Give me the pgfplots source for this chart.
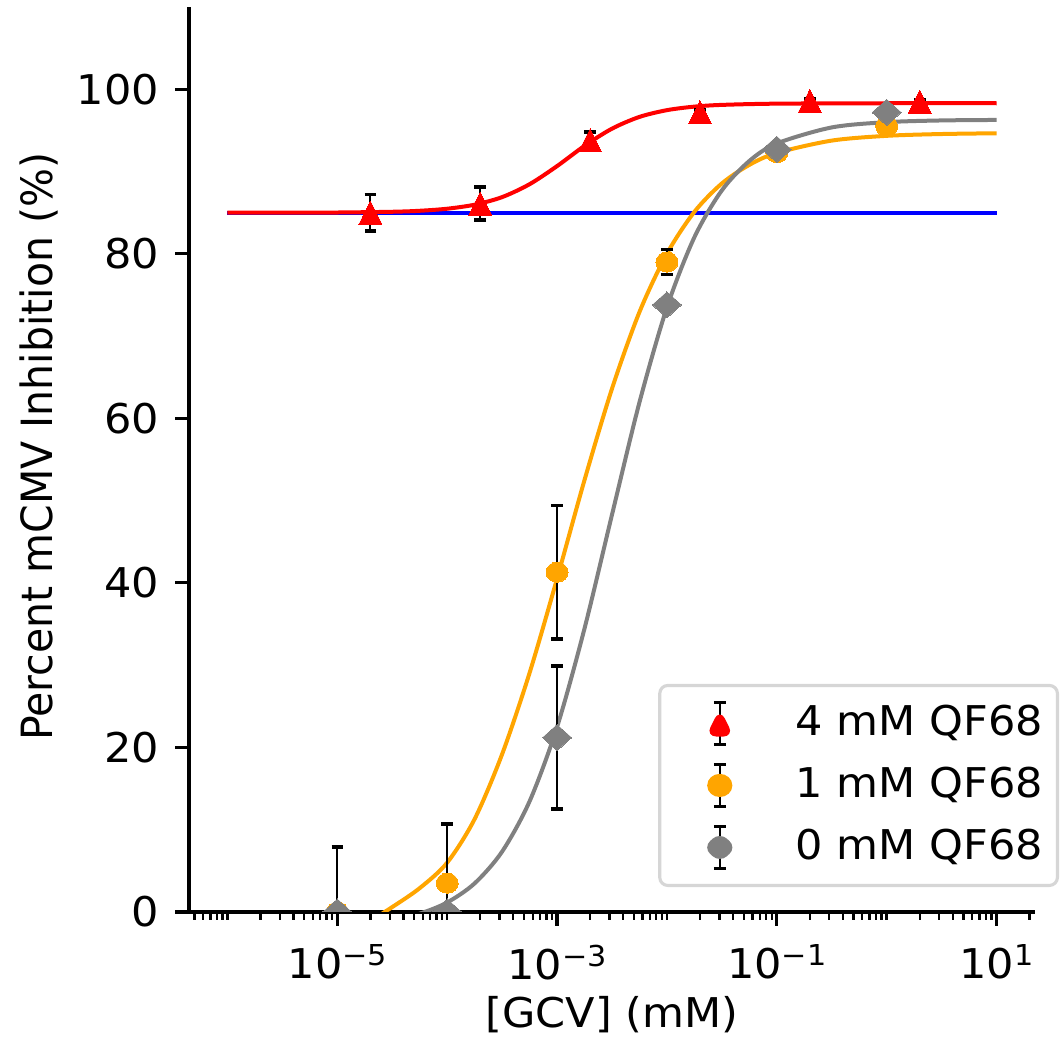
\documentclass[border=0pt]{standalone}
\usepackage{fontspec}
\setmainfont{DejaVu Sans}
\usepackage{graphicx}
\usepackage{pgfplots}
\pgfplotsset{compat=1.18}
\definecolor{mplorange}{RGB}{255,165,0}
\definecolor{mplgray}{RGB}{128,128,128}
\definecolor{mplred}{RGB}{255,0,0}
\definecolor{mplblue}{RGB}{0,0,255}
\newcommand{\fs}{\fontsize{10.25}{12.3}\selectfont}
\newcommand{\sx}[1]{\scalebox{1.05}[1]{#1}}
\newcommand{\tpow}[1]{\sx{10\raisebox{3.3pt}{\fontsize{7.2}{8.6}\selectfont #1}}}
\begin{document}
\begin{tikzpicture}
\path[use as bounding box] (-47.25pt,-34pt) rectangle (218pt,228pt);
\begin{axis}[
  at={(0pt,0pt)}, anchor=south west,
  scale only axis, width=211.5pt, height=226.25pt,
  xmode=log, log basis x=10,
  xmin=4.467e-7, xmax=22.39, ymin=0, ymax=110,
  axis x line*=bottom, axis y line*=left,
  axis line style={line width=0.78pt, black},
  tick align=outside,
  major tick length=3.4pt, minor tick length=1.95pt,
  every tick/.style={black, line width=0.78pt},
  every minor tick/.style={black, line width=0.585pt},
  xtick={1e-5,1e-3,1e-1,1e1},
  xticklabels={\tpow{−5},\tpow{−3},\tpow{−1},\tpow{1}},
  minor xtick={5e-7,6e-7,7e-7,8e-7,9e-7,1e-6,2e-6,3e-6,4e-6,5e-6,6e-6,7e-6,8e-6,9e-6,2e-5,3e-5,4e-5,5e-5,6e-5,7e-5,8e-5,9e-5,1e-4,2e-4,3e-4,4e-4,5e-4,6e-4,7e-4,8e-4,9e-4,2e-3,3e-3,4e-3,5e-3,6e-3,7e-3,8e-3,9e-3,1e-2,2e-2,3e-2,4e-2,5e-2,6e-2,7e-2,8e-2,9e-2,2e-1,3e-1,4e-1,5e-1,6e-1,7e-1,8e-1,9e-1,1,2,3,4,5,6,7,8,9,20},
  ytick={0,20,40,60,80,100},
  yticklabels={\sx{0},\sx{20},\sx{40},\sx{60},\sx{80},\sx{100}},
  xticklabel style={font=\fs, anchor=north, inner sep=0pt, yshift=-4.6pt},
  yticklabel style={font=\fs, anchor=east, inner sep=0pt, xshift=-3.9pt},
  xlabel={\sx{[GCV] (mM)}},
  ylabel={\scalebox{1}[1.05]{Percent mCMV Inhibition (\%)}},
  every axis x label/.style={at={(axis description cs:0.5,-0.1138)}, anchor=center, font=\fs, inner sep=0pt},
  every axis y label/.style={at={(axis description cs:-0.1773,0.514)}, rotate=90, anchor=center, font=\fs, inner sep=0pt},
  clip mode=individual, clip marker paths=true,
  legend cell align=left,
  legend style={at={(1.0284,0.0276)}, anchor=south east,
    draw=black!16, line width=0.78pt, rounded corners=2pt, fill=white,
    inner xsep=0pt, inner ysep=1.75pt, row sep=0pt, column sep=0pt,
    nodes={inner sep=0pt}, font=\fs},
]
% fitted curves
\addplot[forget plot, mplblue, line width=1pt] coordinates {(1e-6,85) (10,85)};
\addplot[forget plot, mplorange, line width=1pt, smooth] coordinates {
(1e-6,-4.74) (1e-5,-3.25) (1.778e-5,-1.5) (3.162e-5,0.6) (5.623e-5,2.9) (1e-4,6.0) (1.778e-4,11.3) (3.162e-4,19.18) (5.623e-4,29.06) (1e-3,40.52) (1.778e-3,52.50) (3.162e-3,63.60) (5.623e-3,72.92) (1e-2,80.01) (1.778e-2,85.10) (3.162e-2,88.55) (5.623e-2,90.81) (1e-1,92.26) (3.162e-1,93.76) (1,94.34) (3.162,94.56) (10,94.65)};
\addplot[forget plot, mplgray, line width=1pt, smooth] coordinates {
(1e-6,-1.97) (1e-5,-1.67) (3.162e-5,-0.98) (5.623e-5,-0.20) (1e-4,1.16) (1.778e-4,3.48) (3.162e-4,7.34) (5.623e-4,13.45) (1e-3,22.48) (1.778e-3,34.45) (3.162e-3,48.28) (5.623e-3,61.94) (1e-2,73.48) (1.778e-2,82.01) (3.162e-2,87.71) (5.623e-2,91.28) (1e-1,93.41) (3.162e-1,95.36) (1,96.0) (3.162,96.21) (10,96.27)};
\addplot[forget plot, mplred, line width=1pt, smooth] coordinates {
(1e-6,85.0) (3.162e-6,85.0) (1e-5,85.02) (3.162e-5,85.11) (5.623e-5,85.23) (1e-4,85.48) (1.778e-4,85.97) (3.162e-4,86.89) (5.623e-4,88.46) (1e-3,90.66) (1.778e-3,93.12) (3.162e-3,95.21) (5.623e-3,96.64) (1e-2,97.46) (1.778e-2,97.89) (3.162e-2,98.10) (1e-1,98.25) (1,98.3) (10,98.3)};
% data with error bars
\addplot[forget plot, only marks, mark=triangle*, mark size=3.3pt,
  mark options={fill=mplred, draw=mplred, line width=0pt, yshift=-0.95pt, yscale=1.16},
  error bars/.cd, y dir=both, y explicit,
  error bar style={black, line width=0.45pt},
  error mark options={rotate=90, black, mark size=1.45pt, line width=0.9pt}]
  coordinates {(2e-5,85.0) +- (0,2.2) (2e-4,86.1) +- (0,2.0) (2e-3,93.8) +- (0,1.0) (2e-2,97.2) +- (0,0.3) (2e-1,98.6) +- (0,0.3) (2,98.5) +- (0,0.2)};
\addplot[forget plot, only marks, mark=*, mark size=2.5pt,
  mark options={xscale=1.1, fill=mplorange, draw=mplorange, line width=0pt},
  error bars/.cd, y dir=both, y explicit,
  error bar style={black, line width=0.45pt},
  error mark options={rotate=90, black, mark size=1.45pt, line width=0.9pt}]
  coordinates {(1e-5,0) +- (0,7.9) (1e-4,3.5) +- (0,7.2) (1e-3,41.3) +- (0,8.1) (1e-2,79.0) +- (0,1.5) (1e-1,92.3) +- (0,0.5) (1,95.5) +- (0,0.5)};
\addplot[forget plot, only marks, mark=square*, mark size=2.3pt,
  mark options={xscale=1.115, rotate=45, fill=mplgray, draw=mplgray, line width=0pt},
  error bars/.cd, y dir=both, y explicit,
  error bar style={black, line width=0.45pt},
  error mark options={rotate=90, black, mark size=1.45pt, line width=0.9pt}]
  coordinates {(1e-5,0) +- (0,0.5) (1e-4,0) +- (0,0.5) (1e-3,21.2) +- (0,8.7) (1e-2,73.8) +- (0,0.5) (1e-1,92.7) +- (0,0.5) (1,97.2) +- (0,0.5)};
% legend
\addlegendimage{legend image code/.code={
  \path[draw=none,fill=none] (0pt,-7.75pt) rectangle (34pt,7.75pt);
  \draw[black,line width=0.45pt] (15pt,-5.25pt) -- (15pt,5.25pt);
  \draw[black,line width=0.9pt] (13.55pt,-5.25pt) -- (16.45pt,-5.25pt) (13.55pt,5.25pt) -- (16.45pt,5.25pt);
  \fill[mplred] (12.125pt,-2.875pt) -- (17.875pt,-2.875pt) -- (15pt,2.875pt) -- cycle;}}
\addlegendentry{\sx{4 mM QF68}\kern3.6pt}
\addlegendimage{legend image code/.code={
  \path[draw=none,fill=none] (0pt,-7.75pt) rectangle (34pt,7.75pt);
  \draw[black,line width=0.45pt] (15pt,-5.25pt) -- (15pt,5.25pt);
  \draw[black,line width=0.9pt] (13.55pt,-5.25pt) -- (16.45pt,-5.25pt) (13.55pt,5.25pt) -- (16.45pt,5.25pt);
  \fill[mplorange] (15pt,0pt) ellipse [x radius=2.75pt, y radius=2.5pt];}}
\addlegendentry{\sx{1 mM QF68}\kern3.6pt}
\addlegendimage{legend image code/.code={
  \path[draw=none,fill=none] (0pt,-7.75pt) rectangle (34pt,7.75pt);
  \draw[black,line width=0.45pt] (15pt,-5.25pt) -- (15pt,5.25pt);
  \draw[black,line width=0.9pt] (13.55pt,-5.25pt) -- (16.45pt,-5.25pt) (13.55pt,5.25pt) -- (16.45pt,5.25pt);
  \fill[mplgray] (15pt,3.25pt) -- (18.62pt,0pt) -- (15pt,-3.25pt) -- (11.38pt,0pt) -- cycle;}}
\addlegendentry{\sx{0 mM QF68}\kern3.6pt}
\end{axis}
\end{tikzpicture}
\end{document}
